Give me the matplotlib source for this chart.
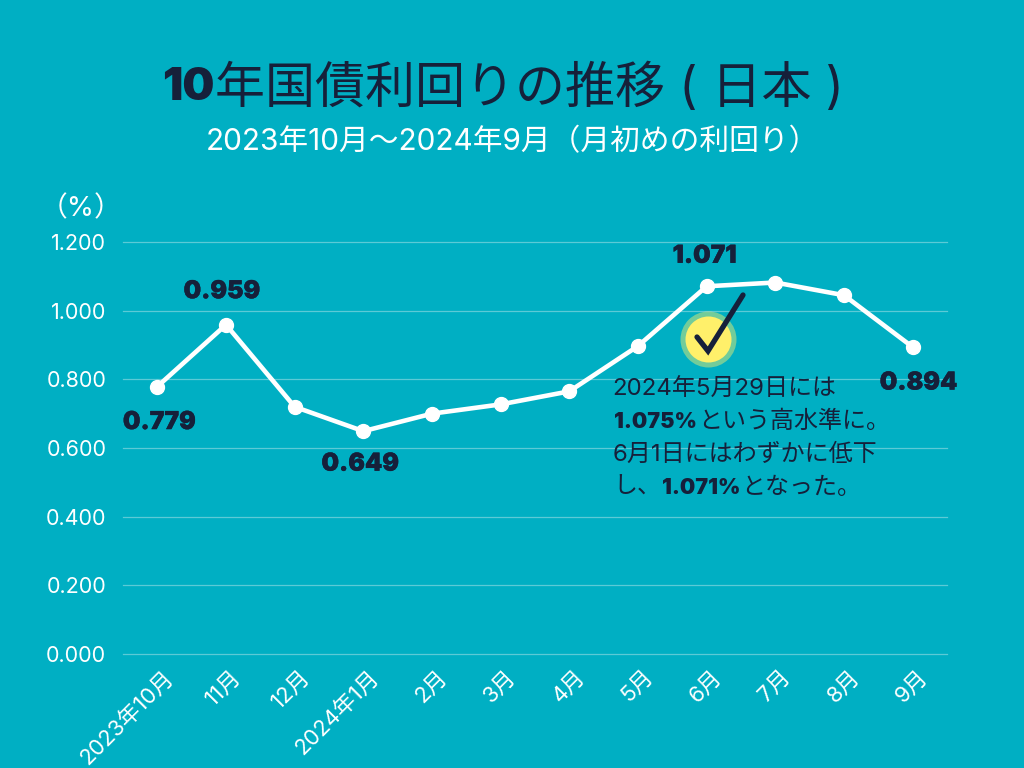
import matplotlib
matplotlib.use("Agg")
import matplotlib.pyplot as plt
from matplotlib.patches import Circle
from matplotlib.transforms import ScaledTranslation
import matplotlib.patheffects as pe

BG = "#00AFC3"
DARK = "#16203A"
FONT = ["Inter", "Noto Sans CJK JP", "DejaVu Sans"]
plt.rcParams["font.family"] = FONT

months = ["2023年10月", "11月", "12月", "2024年1月", "2月", "3月", "4月", "5月", "6月", "7月", "8月", "9月"]
yields = [0.779, 0.959, 0.720, 0.649, 0.700, 0.727, 0.765, 0.897, 1.071, 1.082, 1.045, 0.894]
y_ticks = [0.0, 0.2, 0.4, 0.6, 0.8, 1.0, 1.2]
labelled = {0: (2, 36), 1: (-4, -33), 3: (-3, 33), 8: (-2, -30), 11: (6, 36)}
heavy = [pe.withStroke(linewidth=0.25, foreground=DARK)]

fig = plt.figure(figsize=(10.24, 7.68), dpi=100, facecolor=BG)
ax = fig.add_axes([123 / 1024, 1 - 654 / 768, (947 - 123) / 1024, (654 - 242) / 768], facecolor=BG)
x = list(range(len(months)))
ax.plot(x, yields, color="white", lw=3.3, marker="o", ms=10, mec="white", mfc="white",
        solid_joinstyle="round", zorder=3, clip_on=False)
ax.set_xlim(-0.5, 11.5)
ax.set_ylim(0, 1.2)
ax.set_yticks(y_ticks, [f"{v:.3f}" for v in y_ticks])
ax.set_xticks(x, months)
ax.grid(axis="y", color="#5CCAD6", lw=0.9, clip_on=False)
ax.set_axisbelow(True)
for s in ax.spines.values():
    s.set_visible(False)
ax.tick_params(axis="both", length=0, colors="white")
ax.tick_params(axis="y", pad=12, labelsize=15.5)
ax.tick_params(axis="x", pad=9, labelsize=16)
shift = ScaledTranslation(5 / 100, 0, fig.dpi_scale_trans)
for t in ax.get_xticklabels():
    t.set_rotation(45)
    t.set_ha("right")
    t.set_rotation_mode("anchor")
    t.set_transform(t.get_transform() + shift)
for i, (dx, dy) in labelled.items():
    ax.annotate(f"{yields[i]:.3f}", (x[i], yields[i]), xytext=(dx * 0.72, -dy * 0.72), textcoords="offset points",
                ha="center", va="center", color=DARK, fontsize=17.8, fontweight="black", zorder=5, path_effects=heavy)

# overlay in pixel coordinates
ov = fig.add_axes([0, 0, 1, 1], facecolor="none")
ov.set_xlim(0, 1024)
ov.set_ylim(768, 0)
ov.axis("off")

def chain(x0, y0, pieces):
    xp = x0
    rend = fig.canvas.get_renderer()
    for txt, weight, size in pieces:
        t = ov.text(xp, y0, txt, fontsize=size, fontweight=weight, color=DARK, ha="left", va="center")
        xp = ov.transData.inverted().transform((t.get_window_extent(rend).x1, 0))[0] + 1

chain(162, 88, [("10", "black", 32.5), ("年国債利回りの推移 ( 日本 )", "normal", 36)])
ov.text(512, 142, "2023年10月～2024年9月（月初めの利回り）", fontsize=21.4, color="white", ha="center", va="center")
ov.text(81, 209, "（%）", fontsize=20, color="white", ha="center", va="center")

ov.add_patch(Circle((708.5, 339.5), 28, fc="#FFF06A", alpha=0.45, ec="none", zorder=2))
ov.add_patch(Circle((708.5, 339.5), 23, fc="#FFF06A", ec="none", zorder=3))
ov.plot([697, 708, 743], [337, 351, 295], color=DARK, lw=3.8, solid_capstyle="round",
        solid_joinstyle="miter", zorder=4)

sz = 17.3
bs = 15.5
chain(612.5, 389, [("2024年5月29日には", "normal", sz)])
chain(614, 422, [("1.075%", "black", bs), ("という高水準に。", "normal", sz)])
chain(613, 455, [("6月1日にはわずかに低下", "normal", sz)])
chain(613, 488, [("し、", "normal", sz), ("1.071%", "black", bs), ("となった。", "normal", sz)])

fig.savefig("out.png", dpi=100, facecolor=BG)
